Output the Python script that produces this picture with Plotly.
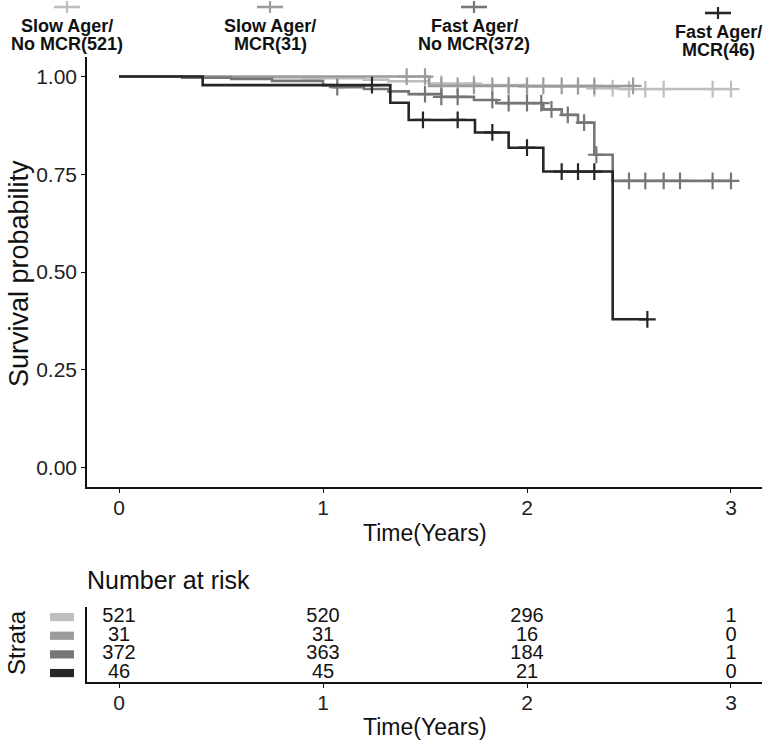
import numpy as np
import plotly.graph_objects as go

W, H = 771, 746

# ---------------- data ----------------
strata = ["Slow Ager/No MCR", "Slow Ager/MCR", "Fast Ager/No MCR", "Fast Ager/MCR"]
legend_line1 = ["Slow Ager/", "Slow Ager/", "Fast Ager/", "Fast Ager/"]
legend_line2 = ["No MCR(521)", "MCR(31)", "No MCR(372)", "MCR(46)"]
colors = ["#BEBEBE", "#9C9C9C", "#767676", "#262626"]

# Kaplan-Meier step points (time in years, survival)
slow_nomcr_t = [0, 0.55, 0.9, 1.2, 1.32, 1.52, 1.75, 2.0, 2.3, 2.45]
slow_nomcr_s = [1.0, 0.998, 0.996, 0.992, 0.988, 0.982, 0.978, 0.974, 0.970, 0.968]
slow_nomcr_end = 3.0
slow_nomcr_cens = [1.58, 1.74, 1.91, 2.0, 2.25, 2.33, 2.42, 2.5, 2.58, 2.67, 2.91, 3.0]

slow_mcr_t = [0, 1.52]
slow_mcr_s = [1.0, 0.976]
slow_mcr_end = 2.52
slow_mcr_cens = [1.41, 1.5, 1.58, 1.66, 1.74, 1.83, 1.91, 2.0, 2.08, 2.17, 2.25, 2.33, 2.52]

fast_nomcr_t = [0, 0.31, 0.55, 0.75, 1.0, 1.05, 1.2, 1.32, 1.42, 1.58, 1.74, 1.85, 2.08, 2.17, 2.25, 2.33, 2.42]
fast_nomcr_s = [1.0, 0.997, 0.994, 0.989, 0.978, 0.973, 0.968, 0.962, 0.955, 0.948, 0.94, 0.932, 0.916, 0.902, 0.882, 0.80, 0.733]
fast_nomcr_end = 3.0
fast_nomcr_cens = [1.07, 1.5, 1.58, 1.66, 1.83, 1.91, 2.0, 2.07, 2.12, 2.2, 2.28, 2.34, 2.5, 2.58, 2.67, 2.75, 2.91, 3.0]

fast_mcr_t = [0, 0.41, 1.33, 1.42, 1.745, 1.91, 2.08, 2.42]
fast_mcr_s = [1.0, 0.978, 0.933, 0.889, 0.857, 0.818, 0.757, 0.379]
fast_mcr_end = 2.59
fast_mcr_cens = [1.24, 1.49, 1.66, 1.83, 2.0, 2.17, 2.25, 2.33, 2.59]

curve_t = [slow_nomcr_t, slow_mcr_t, fast_nomcr_t, fast_mcr_t]
curve_s = [slow_nomcr_s, slow_mcr_s, fast_nomcr_s, fast_mcr_s]
curve_end = [slow_nomcr_end, slow_mcr_end, fast_nomcr_end, fast_mcr_end]
curve_cens = [slow_nomcr_cens, slow_mcr_cens, fast_nomcr_cens, fast_mcr_cens]

# number at risk table
risk_times = [0, 1, 2, 3]
risk_slow_nomcr = [521, 520, 296, 1]
risk_slow_mcr = [31, 31, 16, 0]
risk_fast_nomcr = [372, 363, 184, 1]
risk_fast_mcr = [46, 45, 21, 0]
risk_rows = [risk_slow_nomcr, risk_slow_mcr, risk_fast_nomcr, risk_fast_mcr]

x_ticks = [0, 1, 2, 3]
y_ticks = [0.0, 0.25, 0.5, 0.75, 1.0]
y_ticklabels = ["0.00", "0.25", "0.50", "0.75", "1.00"]

# ---------------- helpers ----------------
def px_x(p):
    return p / W

def px_y(p):
    return 1 - p / H

FONT = "Liberation Sans, Arial, sans-serif"

fig = go.Figure()

for i in range(4):
    t = list(curve_t[i]) + [curve_end[i]]
    s = list(curve_s[i]) + [curve_s[i][-1]]
    fig.add_trace(go.Scatter(x=t, y=s, mode="lines", line=dict(color=colors[i], width=2.6, shape="hv"),
                             xaxis="x", yaxis="y", showlegend=False, hoverinfo="skip"))
    ct = np.array(curve_cens[i])
    idx = np.searchsorted(np.array(curve_t[i]), ct, side="right") - 1
    cs = np.array(curve_s[i])[idx]
    fig.add_trace(go.Scatter(x=ct, y=cs, mode="markers",
                             marker=dict(symbol="cross-thin", size=12, line=dict(color=colors[i], width=2.2)),
                             xaxis="x", yaxis="y", showlegend=False, hoverinfo="skip"))

# risk table text
n_rows = len(risk_rows)
for i, row in enumerate(risk_rows):
    fig.add_trace(go.Scatter(x=risk_times, y=[n_rows - i] * len(risk_times), mode="text",
                             text=[str(v) for v in row],
                             textfont=dict(family=FONT, size=20, color="#111"),
                             xaxis="x2", yaxis="y2", showlegend=False, hoverinfo="skip"))

xdom = [px_x(87), px_x(762)]
xrange = [-0.157, 3.152]

shapes = []
annotations = []

# strata colour keys in risk table
for i in range(n_rows):
    shapes.append(dict(type="rect", xref="paper", yref="y2",
                       x0=px_x(50), x1=px_x(74), y0=n_rows - i - 0.22, y1=n_rows - i + 0.22,
                       fillcolor=colors[i], line=dict(width=0)))

# top legend
leg_cx = [67, 270, 474, 718]
leg_sym_y = [7, 7, 7, 13]
leg_l1_y = [26, 26, 26, 32]
leg_l2_y = [44, 44, 44, 50]
for i in range(4):
    cx = leg_cx[i]
    shapes.append(dict(type="line", xref="paper", yref="paper",
                       x0=px_x(cx - 13), x1=px_x(cx + 13), y0=px_y(leg_sym_y[i]), y1=px_y(leg_sym_y[i]),
                       line=dict(color=colors[i], width=2.6)))
    shapes.append(dict(type="line", xref="paper", yref="paper",
                       x0=px_x(cx), x1=px_x(cx), y0=px_y(leg_sym_y[i] - 6), y1=px_y(leg_sym_y[i] + 6),
                       line=dict(color=colors[i], width=2.2)))
    annotations.append(dict(text="<b>%s</b>" % legend_line1[i], x=px_x(cx), y=px_y(leg_l1_y[i]),
                            xref="paper", yref="paper", xanchor="center", yanchor="middle", showarrow=False,
                            font=dict(family=FONT, size=18, color="#111")))
    annotations.append(dict(text="<b>%s</b>" % legend_line2[i], x=px_x(cx), y=px_y(leg_l2_y[i]),
                            xref="paper", yref="paper", xanchor="center", yanchor="middle", showarrow=False,
                            font=dict(family=FONT, size=18, color="#111")))

annotations += [
    dict(text="Survival probability", x=px_x(19), y=px_y(274), xref="paper", yref="paper",
         textangle=-90, showarrow=False, xanchor="center", yanchor="middle",
         font=dict(family=FONT, size=27, color="#111")),
    dict(text="Time(Years)", x=px_x(425), y=px_y(533), xref="paper", yref="paper",
         showarrow=False, xanchor="center", yanchor="middle",
         font=dict(family=FONT, size=23, color="#111")),
    dict(text="Number at risk", x=px_x(85), y=px_y(580), xref="paper", yref="paper",
         showarrow=False, xanchor="left", yanchor="middle",
         font=dict(family=FONT, size=25, color="#111")),
    dict(text="Strata", x=px_x(16), y=px_y(643), xref="paper", yref="paper",
         textangle=-90, showarrow=False, xanchor="center", yanchor="middle",
         font=dict(family=FONT, size=24, color="#111")),
    dict(text="Time(Years)", x=px_x(425), y=px_y(727), xref="paper", yref="paper",
         showarrow=False, xanchor="center", yanchor="middle",
         font=dict(family=FONT, size=23, color="#111")),
]

axis_common = dict(showgrid=False, zeroline=False, showline=True, linecolor="#111", linewidth=1.6,
                   ticks="outside", ticklen=4, tickwidth=1.2, tickcolor="#111",
                   tickfont=dict(family=FONT, size=21, color="#222"))

fig.update_layout(
    width=W, height=H, margin=dict(l=0, r=0, t=0, b=0),
    paper_bgcolor="white", plot_bgcolor="white", showlegend=False,
    xaxis=dict(domain=xdom, range=xrange, tickvals=x_ticks, anchor="y", ticklabelstandoff=-3, **axis_common),
    yaxis=dict(domain=[px_y(487), px_y(57)], range=[-0.05, 1.05], tickvals=y_ticks,
               ticktext=y_ticklabels, anchor="x", **axis_common),
    xaxis2=dict(domain=xdom, range=xrange, tickvals=x_ticks, anchor="y2", ticklabelstandoff=-3, **axis_common),
    yaxis2=dict(domain=[px_y(682), px_y(607)], range=[0.52, 4.54], anchor="x2",
                showgrid=False, zeroline=False, showline=True, linecolor="#111", linewidth=1.6,
                showticklabels=False, ticks=""),
    shapes=shapes, annotations=annotations,
)

fig.write_html("out.html", config={"displayModeBar": False},
               post_script="document.body.style.margin='0';document.body.style.overflow='hidden';")
